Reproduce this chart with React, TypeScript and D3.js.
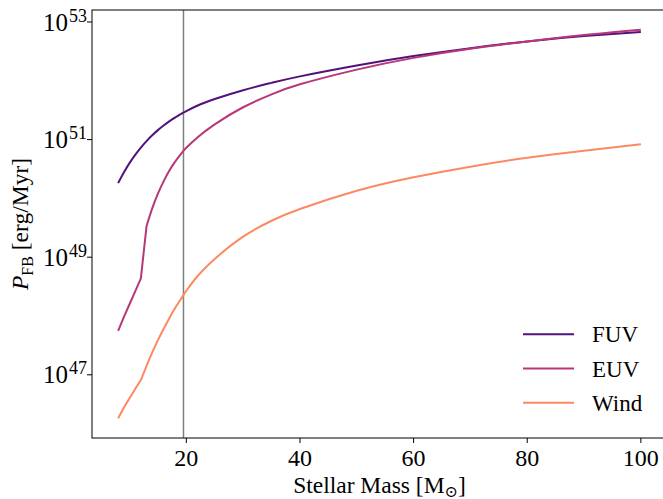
import React from "react";
import * as d3 from "d3";

const masses = [8, 9, 10, 11, 12, 13, 14, 15, 16, 17, 18, 19, 20, 22, 25, 30, 35, 40, 50, 60, 70, 80, 90, 100];
const fuvLog = [50.26, 50.44, 50.6, 50.74, 50.865, 50.975, 51.073, 51.161, 51.24, 51.311, 51.375, 51.433, 51.485, 51.58, 51.69, 51.84, 51.965, 52.075, 52.26, 52.42, 52.555, 52.67, 52.76, 52.83];
const euvLog = [47.745, 47.98, 48.2, 48.42, 48.64, 49.53, 49.83, 50.08, 50.29, 50.47, 50.62, 50.75, 50.86, 51.04, 51.26, 51.55, 51.77, 51.94, 52.19, 52.39, 52.545, 52.67, 52.78, 52.87];
const windLog = [46.26, 46.44, 46.6, 46.76, 46.91, 47.15, 47.38, 47.59, 47.78, 47.96, 48.13, 48.28, 48.43, 48.68, 48.97, 49.35, 49.62, 49.82, 50.13, 50.36, 50.54, 50.69, 50.81, 50.92];
const seriesNames = ["FUV", "EUV", "Wind"];
const seriesColors = ["#51127c", "#b73779", "#fc8961"];
// mass where each series' slope breaks (null = smooth everywhere)
const seriesBreaks = [null, 13, 13];
const xTicks = [20, 40, 60, 80, 100];
const yTickExps = [47, 49, 51, 53];
const markerMass = 19.5;

const W = 663, H = 499;
const L = 92, R = 667, T = 10, B = 438;
const FONT = "'Liberation Serif', 'DejaVu Serif', serif";

export default function App() {
  const x = d3.scaleLinear().domain([3.4, 104.6]).range([L, R]);
  const y = d3.scaleLog().domain([Math.pow(10, 45.925), Math.pow(10, 53.204)]).range([B, T]);
  const all = [fuvLog, euvLog, windLog];
  const lowLine = d3
    .line<[number, number]>()
    .x((d) => x(d[0]))
    .y((d) => y(Math.pow(10, d[1])))
    .curve(d3.curveLinear);
  const smoothLine = d3
    .line<[number, number]>()
    .x((d) => x(d[0]))
    .y((d) => y(Math.pow(10, d[1])))
    .curve(d3.curveNatural);

  return (
    <svg width={W} height={H} style={{ position: "absolute", left: 0, top: 0, background: "#fff" }} fontFamily={FONT}>
      <defs>
        <clipPath id="plotclip">
          <rect x={L} y={T} width={R - L} height={B - T} />
        </clipPath>
      </defs>
      <line x1={x(markerMass)} x2={x(markerMass)} y1={T} y2={B} stroke="#808080" strokeWidth={1.5} />
      <g clipPath="url(#plotclip)" fill="none" strokeWidth={2} strokeLinejoin="round" strokeLinecap="butt">
        {all.map((vals, i) => {
          const pts = masses.map((m, j) => [m, vals[j]] as [number, number]);
          const br = seriesBreaks[i];
          let d = "";
          if (br == null) {
            d = smoothLine(pts) || "";
          } else {
            const low = pts.filter((p) => p[0] <= br);
            const high = pts.filter((p) => p[0] >= br);
            d = (lowLine(low) || "") + (smoothLine(high) || "").replace(/^M/, "L");
          }
          return <path key={i} d={d} stroke={seriesColors[i]} />;
        })}
      </g>
      <rect x={L} y={T} width={R - L} height={B - T} fill="none" stroke="#000" strokeWidth={1} />
      {xTicks.map((t) => (
        <g key={t}>
          <line x1={x(t)} x2={x(t)} y1={B} y2={B + 5} stroke="#000" strokeWidth={1} />
          <text x={x(t)} y={466} textAnchor="middle" fontSize={24}>
            {t}
          </text>
        </g>
      ))}
      {yTickExps.map((e) => {
        const yy = y(Math.pow(10, e));
        return (
          <g key={e}>
            <line x1={L - 5} x2={L} y1={yy} y2={yy} stroke="#000" strokeWidth={1} />
            <text x={87} y={yy + 8.7} textAnchor="end" fontSize={25}>
              10
              <tspan fontSize={18} dy={-9} dx={1}>
                {e}
              </tspan>
            </text>
          </g>
        );
      })}
      <text x={(L + R) / 2} y={493} textAnchor="middle" fontSize={23.5}>
        Stellar Mass [M
        <tspan fontSize={16} dy={4}>
          ⊙
        </tspan>
        <tspan dy={-4}>]</tspan>
      </text>
      <text transform={`translate(28, ${(T + B) / 2}) rotate(-90)`} textAnchor="middle" fontSize={23.5}>
        <tspan fontStyle="italic">P</tspan>
        <tspan fontSize={16} dy={5}>
          FB
        </tspan>
        <tspan dy={-5}> [erg/Myr]</tspan>
      </text>
      {seriesNames.map((n, i) => {
        const ly = 334.3 + i * 34.2;
        return (
          <g key={n}>
            <line x1={523} x2={574} y1={ly} y2={ly} stroke={seriesColors[i]} strokeWidth={2} />
            <text x={592} y={ly + 8} fontSize={23}>
              {n}
            </text>
          </g>
        );
      })}
    </svg>
  );
}
